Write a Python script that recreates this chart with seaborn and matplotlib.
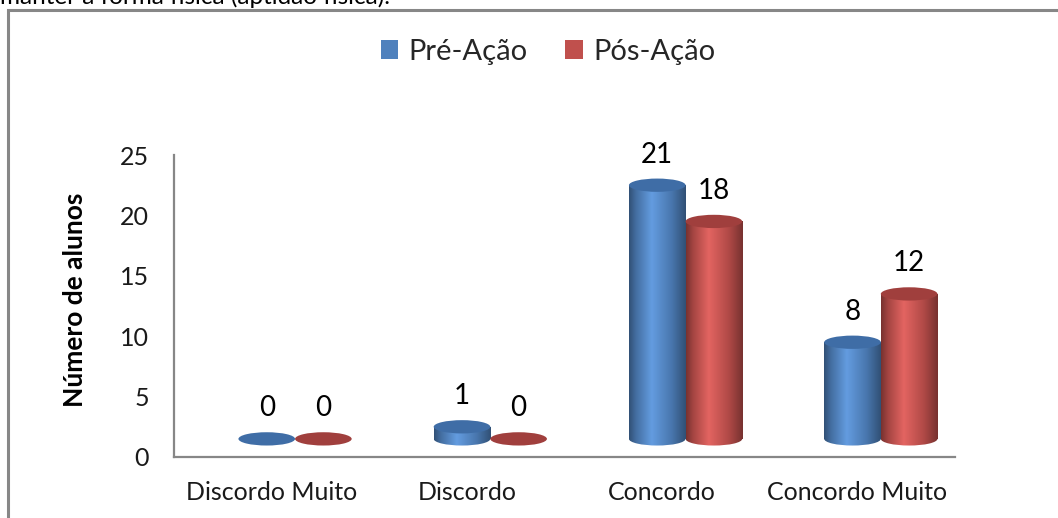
import numpy as np
import pandas as pd
import matplotlib
matplotlib.use("Agg")
import matplotlib.pyplot as plt
import matplotlib.colors as mcolors
from matplotlib.patches import Ellipse, Rectangle
from matplotlib.colors import LinearSegmentedColormap
import seaborn as sns

# ---- data ----
categorias = ["Discordo Muito", "Discordo", "Concordo", "Concordo Muito"]
series = ["Pré-Ação", "Pós-Ação"]
pre_acao = [0, 1, 21, 8]
pos_acao = [0, 0, 18, 12]
y_ticks = [0, 5, 10, 15, 20, 25]
titulo_doc = "manter a forma física (aptidão física)."
y_label = "Número de alunos"

cores = ["#4F81BD", "#C0504D"]
cores_topo = ["#3F6DA6", "#A03F3D"]

df = pd.DataFrame({
    "Categoria": categorias * 2,
    "Série": [series[0]] * len(categorias) + [series[1]] * len(categorias),
    "Valor": pre_acao + pos_acao,
})

sns.set_theme(style="white")
plt.rcParams["font.family"] = ["Lato", "DejaVu Sans"]

W, H = 1058, 518
fig = plt.figure(figsize=(W / 100, H / 100), dpi=100)
ax = fig.add_axes([174 / W, 1 - 457 / H, 781 / W, 302 / H])

# frame around the chart (continues beyond the crop)
fig.patches.append(Rectangle((8 / W, -0.2), 1.3, 1.2 - 9.5 / H,
                             transform=fig.transFigure, fill=False,
                             edgecolor="#878787", lw=2.2, zorder=0))
fig.text(0.0, 1 - 4 / H, titulo_doc, fontsize=17.5, va="baseline",
         ha="left", color="black")

base = 1.5          # 3D floor offset
depth_shift = 0.12  # 3D perspective shift
eh = 1.1            # ellipse height (data units)

sns.barplot(data=df, x="Categoria", y="Valor", hue="Série", palette=cores,
            width=0.58, gap=0, saturation=1, bottom=base, linewidth=0,
            legend=False, ax=ax, order=categorias, hue_order=series)

grad = np.linspace(0, 1, 256).reshape(1, -1)


def make_cmap(c):
    c = np.array(mcolors.to_rgb(c))
    dark = c * 0.62
    light = np.minimum(c * 1.13 + 0.04, 1)
    return LinearSegmentedColormap.from_list(
        "g", [(0, dark), (0.12, c * 0.85), (0.4, light), (0.75, c * 0.92), (1, dark)])


zbase = 3
for k, (cont, vals) in enumerate(zip(ax.containers, [pre_acao, pos_acao])):
    cmap = make_cmap(cores[k])
    for bar, v in zip(cont, vals):
        bar.set_x(bar.get_x() + depth_shift)
        x0, w = bar.get_x(), bar.get_width()
        y0, h = bar.get_y(), bar.get_height()
        cx = x0 + w / 2
        z = zbase + k
        bar.set_zorder(z)
        if h > 0:
            im = ax.imshow(grad, extent=[x0, x0 + w, y0 - eh, y0 + h],
                           aspect="auto", cmap=cmap, zorder=z,
                           interpolation="bilinear")
            im.set_clip_path(bar)
            ell_b = Ellipse((cx, y0), w, eh, transform=ax.transData)
            im2 = ax.imshow(grad, extent=[x0, x0 + w, y0 - eh, y0 + h],
                            aspect="auto", cmap=cmap, zorder=z,
                            interpolation="bilinear")
            im2.set_clip_path(ell_b)
        ax.add_patch(Ellipse((cx, y0 + h), w, eh, facecolor=cores_topo[k],
                             edgecolor="none", zorder=z + 0.1))
        ax.annotate(f"{v}", (cx, y0 + h), xytext=(0, 22),
                    textcoords="offset points", ha="center", va="center",
                    fontsize=20, color="black")

ax.set_xlim(-0.5, len(categorias) - 0.5)
ax.set_ylim(y_ticks[0], y_ticks[-1])
ax.set_yticks(y_ticks)
ax.set_xticks(range(len(categorias)))
ax.set_xticklabels(categorias)
ax.set_xlabel("")
ax.set_ylabel(y_label, fontsize=19, fontweight="bold", color="black")
ax.yaxis.set_label_coords(-0.112, 0.52)
ax.tick_params(axis="both", length=0, labelsize=18, colors="#1a1a1a")
ax.tick_params(axis="y", pad=18)
ax.tick_params(axis="x", pad=17)
sns.despine(ax=ax)
for s in ["left", "bottom"]:
    ax.spines[s].set_color("#878787")
    ax.spines[s].set_linewidth(1.6)
ax.set_facecolor("none")

handles = [Rectangle((0, 0), 1, 1, facecolor=c, edgecolor="none") for c in cores]
fig.legend(handles, series, loc="center", bbox_to_anchor=(548 / W, 1 - 52 / H),
           ncol=2, frameon=False, fontsize=21, handlelength=0.6,
           handleheight=0.6, handletextpad=0.35, columnspacing=1.3)

fig.savefig("out.png", dpi=100)
